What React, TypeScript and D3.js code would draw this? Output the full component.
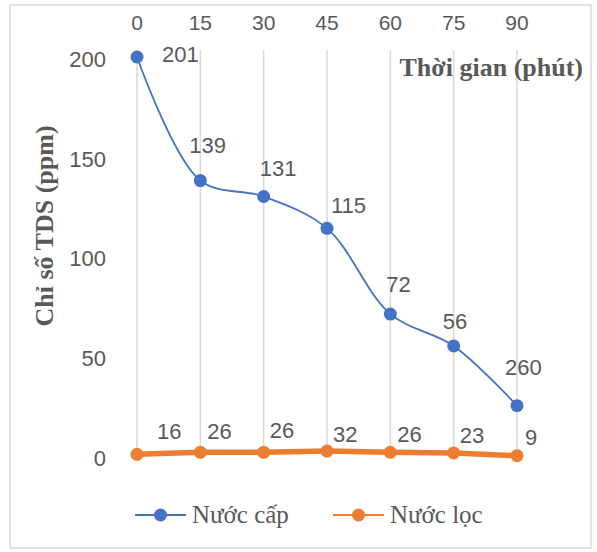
import React, { useRef, useEffect } from "react";
import * as d3 from "d3";

// chart data
const minutes = [0, 15, 30, 45, 60, 75, 90];
const nuocCap = [201, 139, 131, 115, 72, 56, 26];
const nuocCapLabels = ["201", "139", "131", "115", "72", "56", "260"];
const nuocLoc = [1.6, 2.6, 2.6, 3.2, 2.6, 2.3, 0.9];
const nuocLocLabels = ["16", "26", "26", "32", "26", "23", "9"];
const yTicks = [0, 50, 100, 150, 200];

// hand-placed label offsets (as in the original workbook)
const capNudge: [number, number][] = [
  [25, 5], [-11, -28], [-4, -20], [4, -15], [-4, -22], [-11, -17], [-12, -31],
];
const locNudge: [number, number][] = [
  [20, -15], [7, -13], [6, -14], [6, -9], [7, -10], [6, -10], [8, -11],
];

const BLUE = "#4472C4";
const ORANGE = "#ED7D31";
const TEXT = "#595959";
const GRID = "#D9D9D9";
const SANS = "'Liberation Sans', Arial, sans-serif";
const SERIF = "'Liberation Serif', 'Times New Roman', serif";

const App: React.FC = () => {
  const ref = useRef<SVGSVGElement | null>(null);
  const width = 597;
  const height = 552;

  useEffect(() => {
    const svg = d3.select(ref.current);
    svg.selectAll("*").remove();
    svg.attr("width", width).attr("height", height);

    // outer border
    svg
      .append("rect")
      .attr("x", 10)
      .attr("y", 5)
      .attr("width", 581)
      .attr("height", 543)
      .attr("fill", "#fff")
      .attr("stroke", GRID)
      .attr("stroke-width", 1.5);

    const x = d3.scaleLinear().domain([0, 90]).range([137, 517]);
    const y = d3.scaleLinear().domain([0, 200]).range([457.5, 59]);

    // vertical gridlines
    svg
      .append("g")
      .selectAll("line")
      .data(minutes)
      .enter()
      .append("line")
      .attr("x1", (d) => x(d))
      .attr("x2", (d) => x(d))
      .attr("y1", 50)
      .attr("y2", y(0))
      .attr("stroke", GRID)
      .attr("stroke-width", 1.5);

    // top category labels
    svg
      .append("g")
      .selectAll("text")
      .data(minutes)
      .enter()
      .append("text")
      .attr("x", (d) => x(d))
      .attr("y", 30)
      .attr("text-anchor", "middle")
      .attr("fill", TEXT)
      .style("font-family", SANS)
      .style("font-size", "21px")
      .text((d) => String(d));

    // y tick labels
    svg
      .append("g")
      .selectAll("text")
      .data(yTicks)
      .enter()
      .append("text")
      .attr("x", 106)
      .attr("y", (d) => y(d) + 8)
      .attr("text-anchor", "end")
      .attr("fill", TEXT)
      .style("font-family", SANS)
      .style("font-size", "22px")
      .text((d) => String(d));

    // axis titles
    svg
      .append("text")
      .attr("transform", "translate(53,226) rotate(-90)")
      .attr("text-anchor", "middle")
      .attr("fill", TEXT)
      .style("font-family", SERIF)
      .style("font-weight", "bold")
      .style("font-size", "26px")
      .text("Chỉ số TDS (ppm)");
    svg
      .append("text")
      .attr("x", 583)
      .attr("y", 76)
      .attr("text-anchor", "end")
      .attr("fill", TEXT)
      .style("font-family", SERIF)
      .style("font-weight", "bold")
      .style("font-size", "26px")
      .text("Thời gian (phút)");

    // Nước lọc (straight, thick)
    const locLine = d3
      .line<number>()
      .x((_, i) => x(minutes[i]))
      .y((d) => y(d));
    svg
      .append("path")
      .datum(nuocLoc)
      .attr("fill", "none")
      .attr("stroke", ORANGE)
      .attr("stroke-width", 5.5)
      .attr("d", locLine);

    // Nước cấp (smoothed)
    const capLine = d3
      .line<number>()
      .x((_, i) => x(minutes[i]))
      .y((d) => y(d))
      .curve(d3.curveCatmullRom.alpha(0.5));
    svg
      .append("path")
      .datum(nuocCap)
      .attr("fill", "none")
      .attr("stroke", BLUE)
      .attr("stroke-width", 1.8)
      .attr("d", capLine);

    svg
      .append("g")
      .selectAll("circle")
      .data(nuocLoc)
      .enter()
      .append("circle")
      .attr("cx", (_, i) => x(minutes[i]))
      .attr("cy", (d) => y(d))
      .attr("r", 6.5)
      .attr("fill", ORANGE);

    svg
      .append("g")
      .selectAll("circle")
      .data(nuocCap)
      .enter()
      .append("circle")
      .attr("cx", (_, i) => x(minutes[i]))
      .attr("cy", (d) => y(d))
      .attr("r", 6.5)
      .attr("fill", BLUE);

    // data labels
    svg
      .append("g")
      .selectAll("text")
      .data(nuocCap)
      .enter()
      .append("text")
      .attr("x", (_, i) => x(minutes[i]) + capNudge[i][0])
      .attr("y", (d, i) => y(d) + capNudge[i][1])
      .attr("fill", TEXT)
      .style("font-family", SANS)
      .style("font-size", "22px")
      .text((_, i) => nuocCapLabels[i]);

    svg
      .append("g")
      .selectAll("text")
      .data(nuocLoc)
      .enter()
      .append("text")
      .attr("x", (_, i) => x(minutes[i]) + locNudge[i][0])
      .attr("y", (d, i) => y(d) + locNudge[i][1])
      .attr("fill", TEXT)
      .style("font-family", SANS)
      .style("font-size", "22px")
      .text((_, i) => nuocLocLabels[i]);

    // legend
    const legend = [
      { name: "Nước cấp", color: BLUE, x0: 135, w: 2 },
      { name: "Nước lọc", color: ORANGE, x0: 333, w: 2 },
    ];
    const lg = svg
      .append("g")
      .selectAll("g")
      .data(legend)
      .enter()
      .append("g")
      .attr("transform", (d) => `translate(${d.x0},515)`);
    lg.append("line")
      .attr("x1", 0)
      .attr("x2", 51)
      .attr("stroke", (d) => d.color)
      .attr("stroke-width", (d) => d.w);
    lg.append("circle")
      .attr("cx", 25.5)
      .attr("r", 6.5)
      .attr("fill", (d) => d.color);
    lg.append("text")
      .attr("x", 57)
      .attr("y", 8)
      .attr("fill", TEXT)
      .style("font-family", SERIF)
      .style("font-size", "25px")
      .text((d) => d.name);
  }, []);

  return (
    <svg
      ref={ref}
      style={{ position: "absolute", left: 0, top: 0, display: "block" }}
    />
  );
};

export default App;
